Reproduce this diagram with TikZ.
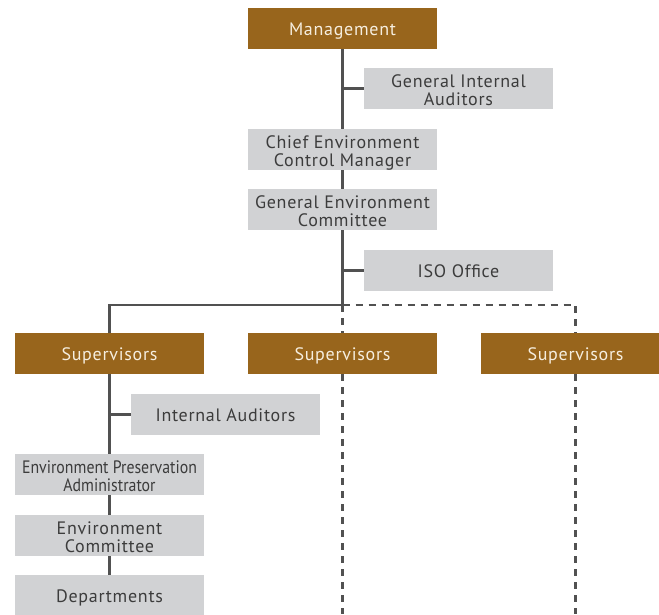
\documentclass[tikz,border=0pt]{standalone}
\usepackage{fontspec}
\setmainfont[LetterSpace=4]{PT Sans}
\newfontfamily\narrowfont[FakeStretch=0.88]{PT Sans}
\definecolor{OrgBrown}{HTML}{98651C}
\definecolor{OrgGray}{HTML}{D1D2D4}
\definecolor{OrgLine}{HTML}{515151}
\definecolor{OrgText}{HTML}{3C3C3C}
\definecolor{OrgCream}{HTML}{F6EEDF}
\tikzset{
  headbox/.style={fill=OrgBrown,text=OrgCream,minimum width=189pt,minimum height=41pt,
    inner sep=0pt,align=center,font=\fontsize{18}{18}\selectfont,
    text height=13pt,text depth=0pt},
  unitbox/.style={fill=OrgGray,text=OrgText,minimum width=189pt,minimum height=41pt,
    inner sep=0pt,align=center,font=\fontsize{18}{18}\selectfont,
    text height=13pt,text depth=0pt},
  twoline/.style={text height=33pt,text depth=0pt},
  link/.style={OrgLine,line width=2.4pt},
  dlink/.style={OrgLine,line width=2.4pt,dash pattern=on 7pt off 6pt},
}

\begin{document}
\begin{tikzpicture}[x=1pt,y=-1pt]
\path[use as bounding box] (0,0) rectangle (659,614);
\node[anchor=east,text=OrgText,font=\fontsize{18}{18}\selectfont] (cut) at (4,55) {e};
% top of the tree
\node[headbox] (mgmt) at (342.5,28.5) {Management};
\node[unitbox,twoline] (gia) at (458.5,88.5) {General Internal\\Auditors};
\node[unitbox,twoline] (cecm) at (342.5,149.5) {Chief Environment\\Control Manager};
\node[unitbox,twoline] (gec) at (342.5,209.5) {General Environment\\Committee};
\node[unitbox] (iso) at (458.5,270.5) {ISO Office};
% supervisors row
\node[headbox] (sup1) at (109.5,353.5) {Supervisors};
\node[headbox] (sup2) at (342.5,353.5) {Supervisors};
\node[headbox] (sup3) at (575.5,353.5) {Supervisors};
% left branch
\node[unitbox] (ia) at (225.5,414.5) {Internal Auditors};
\node[unitbox,twoline,font=\narrowfont\fontsize{18}{18}\selectfont] (epa) at (109.5,474.5) {Environment Preservation\\Administrator};
\node[unitbox,twoline] (ec) at (109.5,535.5) {Environment\\Committee};
\node[unitbox] (dep) at (109.5,595.5) {Departments};
\coordinate (split) at (gec.south |- 0,305);
\coordinate (end2) at (sup2.south |- 0,614);
\coordinate (end3) at (sup3.south |- 0,614);
\draw[link] (mgmt) -- (cecm);
\draw[link] (cecm) -- (gec);
\draw[link] (gec) -- (split);
\draw[link] (gia.west) -- (gia.west -| mgmt.south);
\draw[link] (iso.west) -- (iso.west -| gec.south);
\draw[link] (split) -| (sup1);
\draw[dlink] (split) -- (sup2);
\draw[dlink] (split) -| (sup3);
\draw[dlink] (sup2) -- (end2);
\draw[dlink] (sup3) -- (end3);
\draw[link] (sup1) -- (epa);
\draw[link] (epa) -- (ec);
\draw[link] (ec) -- (dep);
\draw[link] (ia.west) -- (ia.west -| sup1.south);
\end{tikzpicture}
\end{document}
